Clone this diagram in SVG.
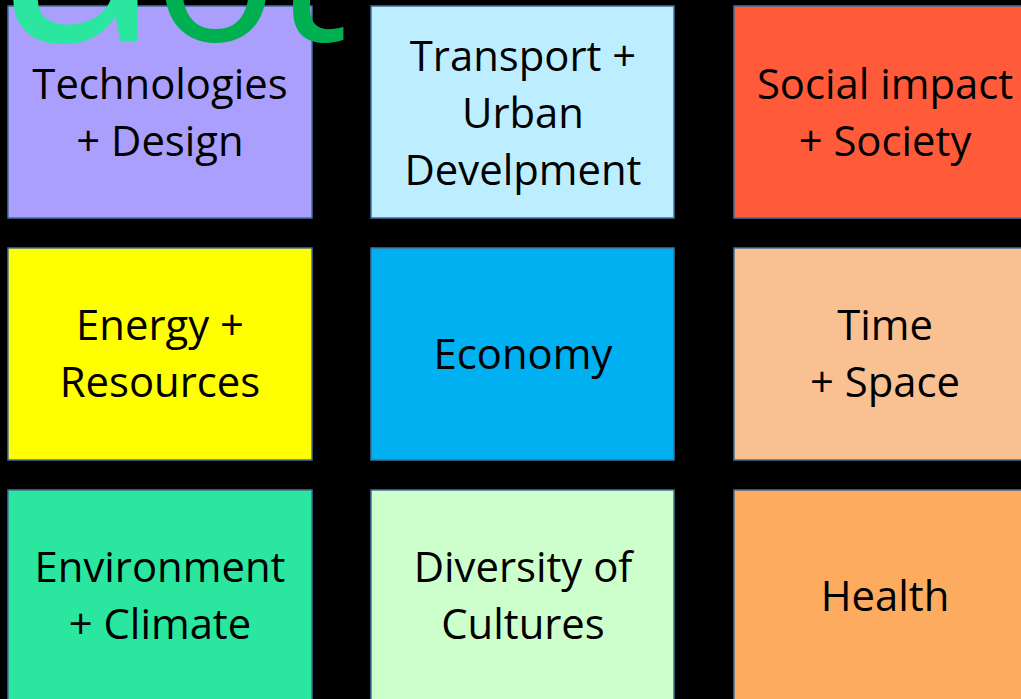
<svg xmlns="http://www.w3.org/2000/svg" width="1021" height="699" viewBox="0 0 1021 699">
<style>
.box{stroke:#41719c;stroke-width:1.5}
.lbl{font-family:"Open Sans","DejaVu Sans",sans-serif;font-size:41.8px;fill:#000;text-anchor:middle}
.hd{font-family:"Open Sans","DejaVu Sans",sans-serif}
</style>
<rect x="0" y="0" width="1021" height="699" fill="#000"/>
<g id="n-tech"><rect class="box" x="8" y="6" width="304" height="212" fill="#ab9ffd"/><text class="lbl" x="160" y="99">Technologies</text><text class="lbl" x="160" y="156">+ Design</text></g>
<g id="n-transport"><rect class="box" x="371" y="6" width="303" height="212" fill="#bdeeff"/><text class="lbl" x="523" y="71">Transport +</text><text class="lbl" x="523" y="128">Urban</text><text class="lbl" x="523" y="185">Develpment</text></g>
<g id="n-social"><rect class="box" x="734" y="6" width="304" height="212" fill="#ff5b3a"/><text class="lbl" x="885" y="99">Social impact</text><text class="lbl" x="885" y="156">+ Society</text></g>
<g id="n-energy"><rect class="box" x="8" y="248" width="304" height="212" fill="#ffff00"/><text class="lbl" x="160" y="340">Energy +</text><text class="lbl" x="160" y="397">Resources</text></g>
<g id="n-economy"><rect class="box" x="371" y="248" width="303" height="212" fill="#00b0f0"/><text class="lbl" x="523" y="369">Economy</text></g>
<g id="n-time"><rect class="box" x="734" y="248" width="304" height="212" fill="#f9c091"/><text class="lbl" x="885" y="340">Time</text><text class="lbl" x="885" y="397">+ Space</text></g>
<g id="n-env"><rect class="box" x="8" y="490" width="304" height="215" fill="#2ae69f"/><text class="lbl" x="160" y="582">Environment</text><text class="lbl" x="160" y="639">+ Climate</text></g>
<g id="n-diversity"><rect class="box" x="371" y="490" width="303" height="215" fill="#ccffcc"/><text class="lbl" x="523" y="582">Diversity of</text><text class="lbl" x="523" y="639">Cultures</text></g>
<g id="n-health"><rect class="box" x="734" y="490" width="304" height="215" fill="#fcab5f"/><text class="lbl" x="885" y="611">Health</text></g>
<g id="connectors"></g>
<g id="heading"><text class="hd" y="41"><tspan x="0" font-size="290" fill="#2ae69f">a</tspan><tspan x="153" font-size="208" fill="#00b050">o</tspan><tspan x="274" font-size="208" fill="#00b050">t</tspan></text></g>
</svg>
